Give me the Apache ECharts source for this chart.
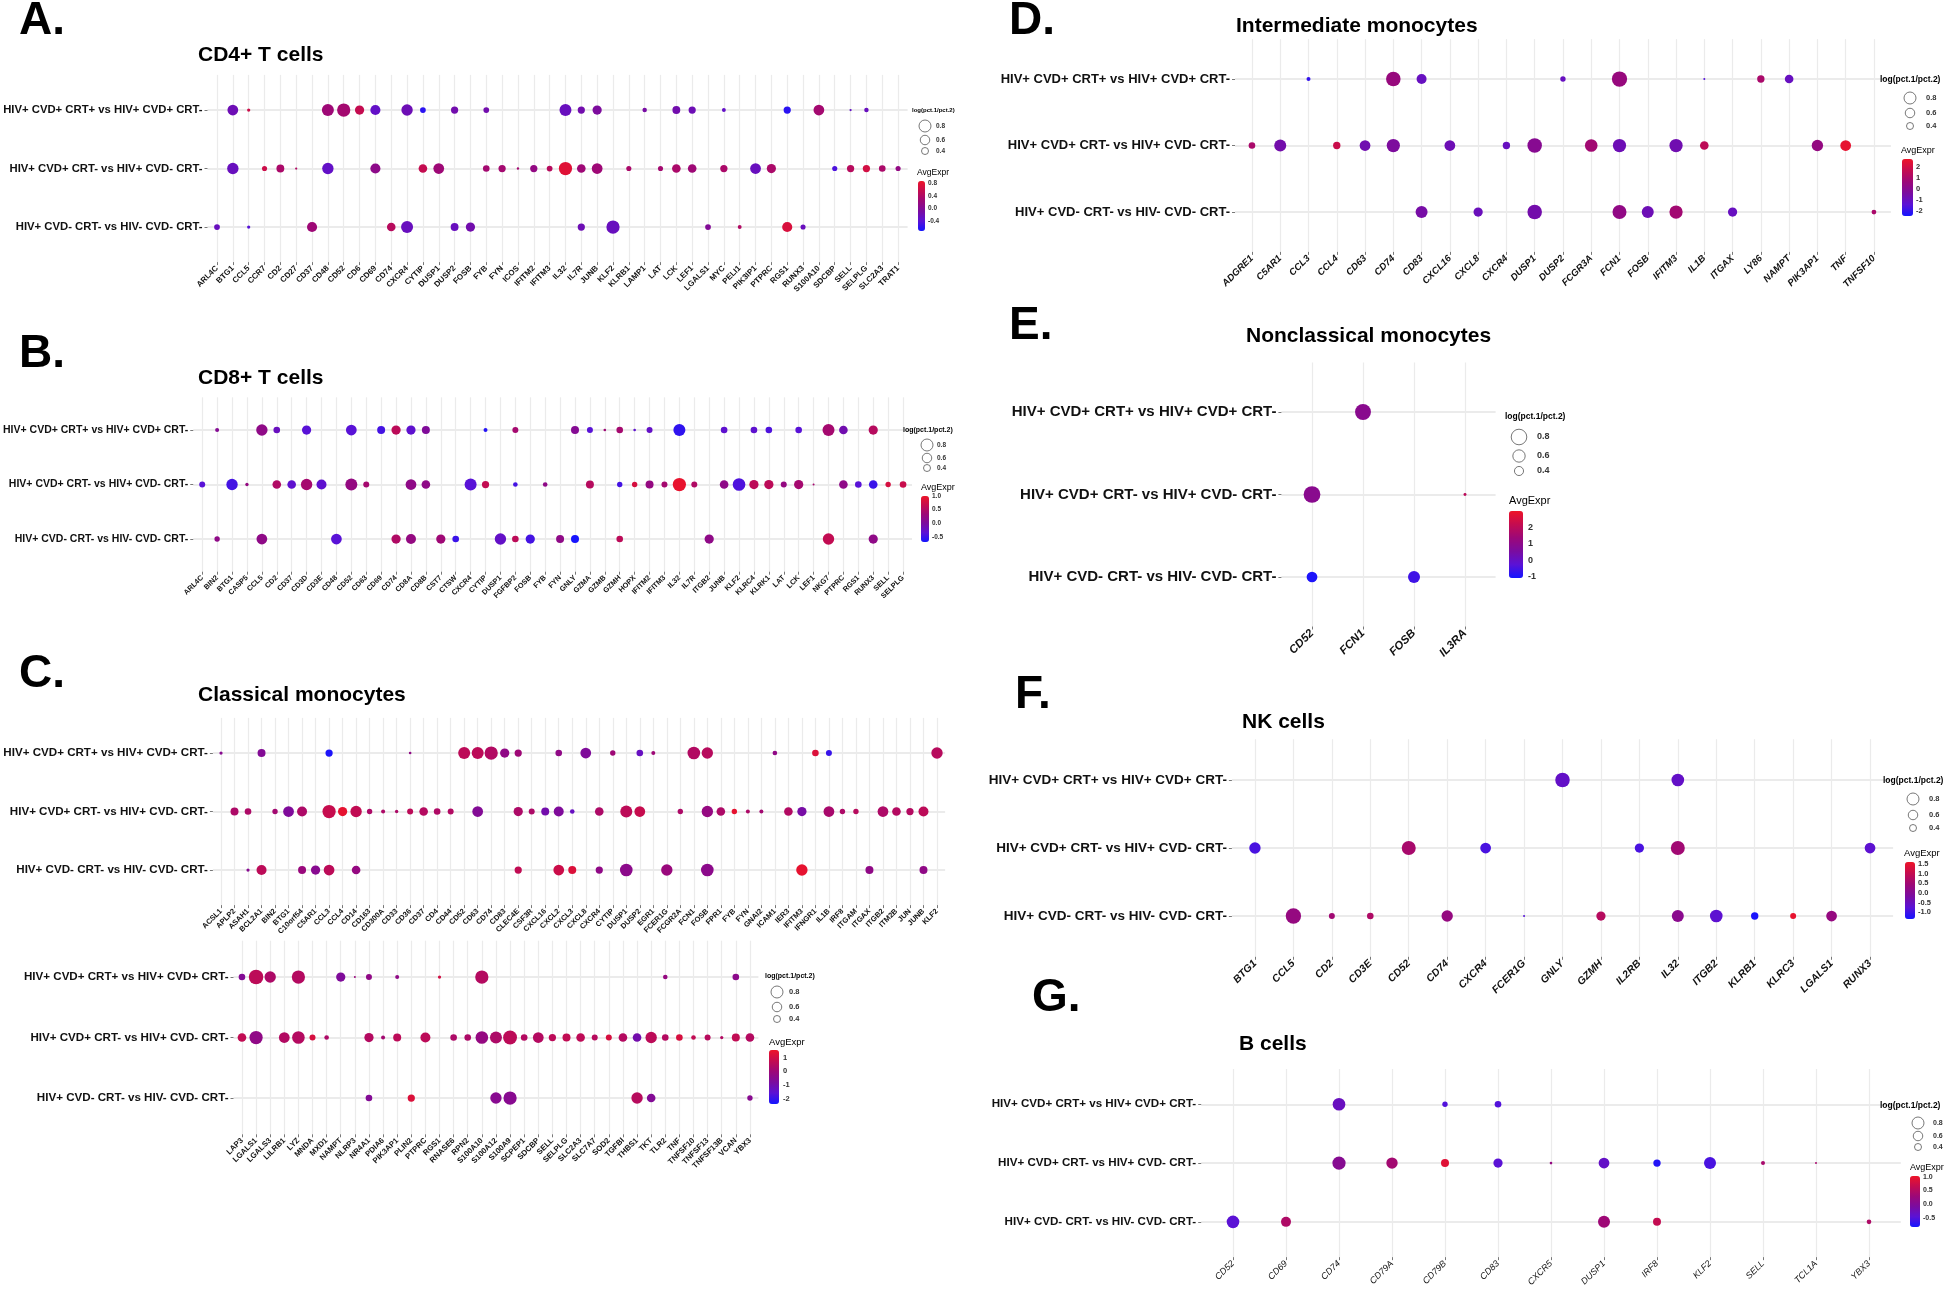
<!DOCTYPE html>
<html><head><meta charset="utf-8">
<script src="https://cdn.jsdelivr.net/npm/echarts@6/dist/echarts.min.js"></script>
<style>html,body{margin:0;padding:0;background:#fff}#c{width:1946px;height:1289px}</style>
</head><body><div id="c"></div>
<script>
// ---------------- DATA ----------------
const rows = ['HIV+ CVD+ CRT+ vs HIV+ CVD+ CRT-', 'HIV+ CVD+ CRT- vs HIV+ CVD- CRT-', 'HIV+ CVD- CRT- vs HIV- CVD- CRT-'];
const sizeTicks = ['0.8', '0.6', '0.4'];

const genesA = ['ARL4C','BTG1','CCL5','CCR7','CD2','CD27','CD37','CD48','CD52','CD6','CD69','CD74','CXCR4','CYTIP','DUSP1','DUSP2','FOSB','FYB','FYN','ICOS','IFITM2','IFITM3','IL32','IL7R','JUNB','KLF2','KLRB1','LAMP1','LAT','LCK','LEF1','LGALS1','MYC','PELI1','PIK3IP1','PTPRC','RGS1','RUNX3','S100A10','SDCBP','SELL','SELPLG','SLC2A3','TRAT1'];
// [gene, row, AvgExpr, log(pct.1/pct.2)]
const dotsA = [
 ['BTG1',0,-0.2,0.7],['CCL5',0,0.6,0.1],['CD48',0,0.25,0.8],['CD52',0,0.3,0.9],['CD6',0,0.55,0.58],['CD69',0,-0.3,0.65],['CXCR4',0,-0.2,0.75],['CYTIP',0,-0.6,0.3],['DUSP2',0,-0.15,0.42],['FYB',0,-0.15,0.3],['IL32',0,-0.25,0.8],['IL7R',0,-0.15,0.42],['JUNB',0,-0.05,0.58],['LAMP1',0,-0.1,0.2],['LCK',0,-0.15,0.47],['LEF1',0,-0.2,0.42],['MYC',0,-0.3,0.15],['RGS1',0,-0.6,0.42],['S100A10',0,0.3,0.7],['SELL',0,-0.3,0.02],['SELPLG',0,-0.25,0.2],
 ['BTG1',1,-0.25,0.75],['CCR7',1,0.6,0.25],['CD2',1,0.35,0.47],['CD27',1,0.4,0.02],['CD48',1,-0.3,0.75],['CD69',1,0.1,0.65],['CYTIP',1,0.55,0.53],['DUSP1',1,0.25,0.7],['FYB',1,0.3,0.37],['FYN',1,0.3,0.42],['ICOS',1,0.3,0.03],['IFITM2',1,0.15,0.42],['IFITM3',1,0.45,0.3],['IL32',1,0.75,0.9],['IL7R',1,0.25,0.53],['JUNB',1,0.25,0.7],['KLRB1',1,0.35,0.25],['LAT',1,0.3,0.25],['LCK',1,0.35,0.53],['LEF1',1,0.25,0.53],['MYC',1,0.35,0.42],['PIK3IP1',1,-0.25,0.7],['PTPRC',1,0.35,0.58],['SDCBP',1,-0.45,0.25],['SELL',1,0.45,0.42],['SELPLG',1,0.65,0.42],['SLC2A3',1,0.35,0.37],['TRAT1',1,0.15,0.25],
 ['ARL4C',2,-0.25,0.3],['CCL5',2,-0.4,0.1],['CD37',2,0.25,0.65],['CD74',2,0.45,0.53],['CXCR4',2,-0.25,0.8],['DUSP2',2,-0.25,0.47],['FOSB',2,-0.15,0.58],['IL7R',2,-0.2,0.42],['KLF2',2,-0.25,0.9],['LGALS1',2,0.0,0.3],['PELI1',2,0.4,0.15],['RGS1',2,0.7,0.65],['RUNX3',2,-0.25,0.25]
];
const cticksA = ['0.8','0.4','0.0','-0.4'];

const genesB = ['ARL4C','BIN2','BTG1','CASP5','CCL5','CD2','CD37','CD3D','CD3E','CD48','CD52','CD63','CD69','CD74','CD8A','CD8B','CST7','CTSW','CXCR4','CYTIP','DUSP1','FGFBP2','FOSB','FYB','FYN','GNLY','GZMA','GZMB','GZMH','HOPX','IFITM2','IFITM3','IL32','IL7R','ITGB2','JUNB','KLF2','KLRC4','KLRK1','LAT','LCK','LEF1','NKG7','PTPRC','RGS1','RUNX3','SELL','SELPLG'];
const dotsB = [
 ['BIN2',0,0.1,0.16],['CCL5',0,0.2,0.75],['CD2',0,-0.2,0.37],['CD3D',0,-0.35,0.58],['CD52',0,-0.35,0.7],['CD69',0,-0.45,0.48],['CD74',0,0.6,0.58],['CD8A',0,-0.3,0.58],['CD8B',0,0.05,0.48],['CYTIP',0,-0.6,0.16],['FGFBP2',0,0.4,0.32],['GNLY',0,0.1,0.48],['GZMA',0,-0.35,0.32],['GZMB',0,0.35,0.05],['GZMH',0,0.4,0.37],['HOPX',0,-0.3,0.05],['IFITM2',0,-0.25,0.32],['IL32',0,-0.55,0.8],['JUNB',0,-0.3,0.37],['KLRC4',0,-0.3,0.37],['KLRK1',0,-0.4,0.37],['LCK',0,-0.35,0.37],['NKG7',0,0.4,0.8],['PTPRC',0,-0.1,0.53],['RUNX3',0,0.55,0.58],
 ['ARL4C',1,-0.35,0.32],['BTG1',1,-0.45,0.75],['CASP5',1,0.25,0.11],['CD2',1,0.5,0.53],['CD37',1,-0.3,0.53],['CD3D',1,0.4,0.75],['CD3E',1,-0.3,0.64],['CD52',1,0.25,0.8],['CD63',1,0.4,0.32],['CD8A',1,0.2,0.7],['CD8B',1,0.2,0.53],['CXCR4',1,-0.35,0.8],['CYTIP',1,0.65,0.42],['FGFBP2',1,-0.45,0.21],['FYB',1,0.2,0.21],['GZMA',1,0.55,0.48],['GZMH',1,-0.45,0.27],['HOPX',1,0.8,0.27],['IFITM2',1,0.25,0.48],['IFITM3',1,0.4,0.32],['IL32',1,0.95,0.9],['IL7R',1,0.5,0.32],['JUNB',1,0.2,0.53],['KLF2',1,-0.4,0.85],['KLRC4',1,0.6,0.58],['KLRK1',1,0.6,0.58],['LAT',1,0.25,0.32],['LCK',1,0.4,0.58],['LEF1',1,0.4,0.0],['PTPRC',1,0.2,0.53],['RGS1',1,-0.35,0.37],['RUNX3',1,-0.5,0.53],['SELL',1,0.8,0.27],['SELPLG',1,0.7,0.37],
 ['BIN2',2,0.2,0.27],['CCL5',2,0.2,0.7],['CD48',2,-0.35,0.7],['CD74',2,0.5,0.58],['CD8A',2,0.25,0.64],['CST7',2,0.35,0.58],['CTSW',2,-0.5,0.37],['DUSP1',2,-0.25,0.75],['FGFBP2',2,0.6,0.37],['FOSB',2,-0.45,0.58],['FYN',2,0.2,0.48],['GNLY',2,-0.66,0.48],['GZMH',2,0.6,0.37],['ITGB2',2,0.2,0.58],['NKG7',2,0.65,0.75],['RUNX3',2,0.2,0.58]
];
const cticksB = ['1.0','0.5','0.0','-0.5'];

const genesC1 = ['ACSL1','APLP2','ASAH1','BCL2A1','BIN2','BTG1','C10orf54','C5AR1','CCL3','CCL4','CD14','CD163','CD300A','CD33','CD36','CD37','CD4','CD44','CD52','CD63','CD74','CD83','CLEC4E','CSF3R','CXCL16','CXCL2','CXCL3','CXCL8','CXCR4','CYTIP','DUSP1','DUSP2','EGR1','FCER1G','FCGR2A','FCN1','FOSB','FPR1','FYB','FYN','GNAI2','ICAM1','IER3','IFITM3','IFNGR1','IL1B','IRF8','ITGAM','ITGAX','ITGB2','ITM2B','JUN','JUNB','KLF2'];
const dotsC1 = [
 ['ACSL1',0,-0.5,0.1],['BCL2A1',0,-0.6,0.48],['CCL3',0,-2.3,0.42],['CD36',0,-0.3,0.05],['CD52',0,0.6,0.8],['CD63',0,0.6,0.8],['CD74',0,0.4,0.9],['CD83',0,-0.3,0.58],['CLEC4E',0,0.0,0.42],['CXCL2',0,-0.3,0.37],['CXCL8',0,-0.7,0.7],['CYTIP',0,0.0,0.27],['DUSP2',0,-1.3,0.37],['EGR1',0,0.0,0.16],['FCN1',0,0.4,0.85],['FOSB',0,0.5,0.75],['ICAM1',0,-0.3,0.21],['IFNGR1',0,1.2,0.37],['IL1B',0,-2.0,0.32],['KLF2',0,0.5,0.75],
 ['APLP2',1,0.3,0.48],['ASAH1',1,0.3,0.37],['BIN2',1,0.1,0.27],['BTG1',1,-0.7,0.7],['C10orf54',1,0.3,0.64],['CCL3',1,0.8,0.9],['CCL4',1,1.4,0.58],['CD14',1,0.7,0.75],['CD163',1,0.3,0.27],['CD300A',1,0.3,0.16],['CD33',1,0.3,0.11],['CD36',1,0.6,0.32],['CD37',1,0.45,0.53],['CD4',1,0.35,0.37],['CD44',1,0.4,0.32],['CD63',1,-0.6,0.7],['CLEC4E',1,0.3,0.58],['CSF3R',1,0.3,0.32],['CXCL16',1,-1.0,0.48],['CXCL2',1,-0.7,0.64],['CXCL3',1,-1.3,0.21],['CXCR4',1,0.3,0.53],['DUSP1',1,0.6,0.8],['DUSP2',1,0.8,0.7],['FCGR2A',1,0.3,0.27],['FOSB',1,-0.2,0.75],['FPR1',1,0.3,0.53],['FYB',1,1.4,0.27],['FYN',1,0.3,0.16],['GNAI2',1,0.1,0.16],['IER3',1,0.4,0.53],['IFITM3',1,-0.9,0.58],['IL1B',1,0.2,0.7],['IRF8',1,0.3,0.27],['ITGAM',1,0.5,0.27],['ITGB2',1,0.3,0.7],['ITM2B',1,0.45,0.53],['JUN',1,0.45,0.42],['JUNB',1,0.6,0.64],
 ['ASAH1',2,-0.5,0.1],['BCL2A1',2,0.6,0.64],['C10orf54',2,-0.1,0.48],['C5AR1',2,-0.5,0.58],['CCL3',2,0.6,0.7],['CD14',2,-0.2,0.53],['CLEC4E',2,0.7,0.42],['CXCL2',2,0.9,0.7],['CXCL3',2,1.2,0.48],['CXCR4',2,-0.3,0.42],['DUSP1',2,-0.4,0.85],['FCER1G',2,-0.1,0.75],['FOSB',2,-0.4,0.85],['IFITM3',2,1.4,0.75],['ITGAX',2,-0.3,0.48],['JUNB',2,-0.3,0.48]
];
const genesC2 = ['LAP3','LGALS1','LGALS3','LILRB1','LYZ','MNDA','MXD1','NAMPT','NLRP3','NR4A1','PDIA6','PIK3AP1','PLIN2','PTPRC','RGS1','RNASE6','RPN2','S100A10','S100A12','S100A9','SCPEP1','SDCBP','SELL','SELPLG','SLC2A3','SLC7A7','SOD2','TGFBI','THBS1','TKT','TLR2','TNF','TNFSF10','TNFSF13','TNFSF13B','VCAN','YBX3'];
const dotsC2 = [
 ['LAP3',0,-0.6,0.37],['LGALS1',0,0.6,1.0],['LGALS3',0,0.3,0.75],['LYZ',0,0.45,0.9],['NAMPT',0,-0.7,0.58],['NLRP3',0,-0.1,0.0],['NR4A1',0,-0.3,0.32],['PIK3AP1',0,-0.3,0.16],['RGS1',0,1.0,0.1],['S100A10',0,0.45,0.9],['TLR2',0,-0.2,0.21],['VCAN',0,-0.4,0.37],
 ['LAP3',1,0.7,0.53],['LGALS1',1,-0.3,0.9],['LILRB1',1,0.4,0.7],['LYZ',1,0.45,0.85],['MNDA',1,1.1,0.32],['MXD1',1,0.3,0.21],['NR4A1',1,0.45,0.58],['PDIA6',1,0.1,0.16],['PIK3AP1',1,0.6,0.48],['PTPRC',1,0.6,0.64],['RNASE6',1,0.3,0.37],['RPN2',1,0.3,0.37],['S100A10',1,-0.2,0.85],['S100A12',1,0.3,0.8],['S100A9',1,0.6,0.95],['SCPEP1',1,0.45,0.37],['SDCBP',1,0.45,0.7],['SELL',1,0.6,0.42],['SELPLG',1,0.7,0.48],['SLC2A3',1,0.65,0.53],['SLC7A7',1,0.5,0.32],['SOD2',1,1.1,0.32],['TGFBI',1,0.45,0.53],['THBS1',1,-1.0,0.53],['TKT',1,0.6,0.75],['TLR2',1,0.45,0.37],['TNF',1,1.1,0.37],['TNFSF10',1,0.7,0.21],['TNFSF13',1,0.5,0.32],['TNFSF13B',1,0.4,0.1],['VCAN',1,0.7,0.48],['YBX3',1,0.45,0.53],
 ['NR4A1',2,-0.6,0.37],['PLIN2',2,1.2,0.42],['S100A12',2,-0.5,0.75],['S100A9',2,-0.5,0.9],['THBS1',2,0.5,0.75],['TKT',2,-0.6,0.53],['YBX3',2,-0.5,0.27]
];
const cticksC = ['1','0','-1','-2'];

const genesD = ['ADGRE1','C5AR1','CCL3','CCL4','CD63','CD74','CD83','CXCL16','CXCL8','CXCR4','DUSP1','DUSP2','FCGR3A','FCN1','FOSB','IFITM3','IL1B','ITGAX','LY86','NAMPT','PIK3AP1','TNF','TNFSF10'];
const dotsD = [
 ['CCL3',0,-2.0,0.16],['CD74',0,0.5,1.0],['CD83',0,-1.0,0.64],['DUSP2',0,-1.0,0.27],['FCN1',0,0.5,1.06],['IL1B',0,-1.5,0.0],['LY86',0,1.0,0.43],['NAMPT',0,-1.0,0.53],
 ['ADGRE1',1,1.0,0.37],['C5AR1',1,-0.6,0.8],['CCL4',1,1.8,0.43],['CD63',1,-0.7,0.7],['CD74',1,-0.3,0.9],['CXCL16',1,-0.8,0.7],['CXCR4',1,-1.0,0.43],['DUSP1',1,0.0,1.0],['FCGR3A',1,0.8,0.85],['FCN1',1,-0.8,0.9],['IFITM3',1,-0.7,0.9],['IL1B',1,1.5,0.53],['PIK3AP1',1,0.4,0.75],['TNF',1,2.5,0.7],
 ['CD83',2,-0.5,0.8],['CXCL8',2,-0.9,0.58],['DUSP1',2,-0.6,1.0],['FCN1',2,0.3,0.96],['FOSB',2,-0.8,0.8],['IFITM3',2,0.8,0.9],['ITGAX',2,-1.0,0.58],['TNFSF10',2,1.0,0.22]
];
const cticksD = ['2','1','0','-1','-2'];

const genesE = ['CD52','FCN1','FOSB','IL3RA'];
const dotsE = [['FCN1',0,0.9,0.82],['CD52',1,0.9,0.87],['IL3RA',1,2.0,0.02],['CD52',2,-1.0,0.5],['FOSB',2,-0.6,0.58]];
const cticksE = ['2','1','0','-1'];

const genesF = ['BTG1','CCL5','CD2','CD3E','CD52','CD74','CXCR4','FCER1G','GNLY','GZMH','IL2RB','IL32','ITGB2','KLRB1','KLRC3','LGALS1','RUNX3'];
const dotsF = [
 ['GNLY',0,-0.6,1.0],['IL32',0,-0.6,0.85],
 ['BTG1',1,-0.9,0.75],['CD52',1,0.6,0.96],['CXCR4',1,-0.9,0.7],['IL2RB',1,-0.9,0.58],['IL32',1,0.5,0.96],['RUNX3',1,-0.7,0.7],
 ['CCL5',2,0.3,1.07],['CD2',2,0.5,0.32],['CD3E',2,0.7,0.37],['CD74',2,0.3,0.75],['FCER1G',2,-0.8,0.0],['GZMH',2,0.8,0.58],['IL32',2,0.1,0.8],['ITGB2',2,-0.7,0.85],['KLRB1',2,-1.3,0.43],['KLRC3',2,1.5,0.32],['LGALS1',2,0.3,0.7]
];
const cticksF = ['1.5','1.0','0.5','0.0','-0.5','-1.0'];

const genesG = ['CD52','CD69','CD74','CD79A','CD79B','CD83','CXCR5','DUSP1','IRF8','KLF2','SELL','TCL1A','YBX3'];
const dotsG = [
 ['CD74',0,-0.3,0.85],['CD79B',0,-0.5,0.27],['CD83',0,-0.5,0.37],
 ['CD74',1,0.05,0.9],['CD79A',1,0.35,0.75],['CD79B',1,0.9,0.48],['CD83',1,-0.45,0.58],['CXCR5',1,0.2,0.05],['DUSP1',1,-0.35,0.7],['IRF8',1,-0.75,0.43],['KLF2',1,-0.55,0.8],['SELL',1,0.4,0.16],['TCL1A',1,0.4,0.0],
 ['CD52',2,-0.45,0.85],['CD69',2,0.45,0.64],['DUSP1',2,0.3,0.8],['IRF8',2,0.65,0.48],['YBX3',2,0.45,0.21]
];
const cticksG = ['1.0','0.5','0.0','-0.5'];

// ---------------- LAYOUT / STYLE ----------------
const FONT = '"Liberation Sans", Arial, Helvetica, sans-serif';
const pal = ['#1414ff','#5a12d6','#7a0ca0','#9c0878','#c40c50','#ee1428'];
function sz(v, k) { return Math.max(1.6, k * (2 + 12.5 * v)); }
const EXP = 0.6; // ggplot discrete-axis expansion

const panels = [
 {genes: genesA, dots: dotsA, range: [-0.7, 0.86], cticks: cticksA, k: 1,
  grid: {left: 207.5, top: 74.9, width: 700.1, height: 187.2}, yFont: 11.3, xFont: 8, xStyle: 'normal', xWeight: 'bold',
  title: {text: 'CD4+ T cells', x: 198, y: 55}, letter: {text: 'A.', x: 19, y: 21},
  leg: {tx: 912, ty: 110, ts: 6, cx: 925, cy: [126, 140, 151], lx: 936, ls: 6.5, ax: 917, ay: 173, as: 8.5, bx: 918, by: 181, bw: 7, bh: 50, blx: 928, bs: 6.5}},
 {genes: genesB, dots: dotsB, range: [-0.68, 1.0], cticks: cticksB, k: 1,
  grid: {left: 190.0, top: 397.3, width: 722.0, height: 174.4}, yFont: 10.5, xFont: 7.3, xStyle: 'normal', xWeight: 'bold',
  title: {text: 'CD8+ T cells', x: 198, y: 378}, letter: {text: 'B.', x: 19, y: 354},
  leg: {tx: 903, ty: 430, ts: 7, cx: 927, cy: [445, 458, 468], lx: 937, ls: 6.5, ax: 921, ay: 488, as: 9, bx: 921, by: 496, bw: 8, bh: 46, blx: 932, bs: 6.5}},
 {genes: genesC1, dots: dotsC1, range: [-2.4, 1.55], cticks: null, k: 1,
  grid: {left: 212.9, top: 717.9, width: 732.2, height: 187.2}, yFont: 11.6, xFont: 7.5, xStyle: 'normal', xWeight: 'bold',
  title: {text: 'Classical monocytes', x: 198, y: 695}, letter: {text: 'C.', x: 19, y: 674}, leg: null},
 {genes: genesC2, dots: dotsC2, range: [-2.4, 1.55], cticks: cticksC, k: 1,
  grid: {left: 233.5, top: 940.7, width: 524.9, height: 193.6}, yFont: 11.6, xFont: 7.8, xStyle: 'normal', xWeight: 'bold',
  title: null, letter: null,
  leg: {tx: 765, ty: 976, ts: 7, cx: 777, cy: [992, 1007, 1019], lx: 789, ls: 7.5, ax: 769, ay: 1042, as: 9.5, bx: 769, by: 1050, bw: 10, bh: 54, blx: 783, bs: 7.5}},
 {genes: genesD, dots: dotsD, range: [-2.45, 2.7], cticks: cticksD, k: 1,
  grid: {left: 1235.0, top: 39.1, width: 655.9, height: 212.8}, yFont: 13, xFont: 9.5, xStyle: 'italic', xWeight: 'bold',
  title: {text: 'Intermediate monocytes', x: 1236, y: 26}, letter: {text: 'D.', x: 1009, y: 21},
  leg: {tx: 1880, ty: 80, ts: 8.5, cx: 1910, cy: [98, 113, 126], lx: 1926, ls: 7.5, ax: 1901, ay: 151, as: 9, bx: 1902, by: 159, bw: 11, bh: 57, blx: 1916, bs: 7.5}},
 {genes: genesE, dots: dotsE, range: [-1.1, 3.0], cticks: cticksE, k: 1.3,
  grid: {left: 1281.4, top: 362.5, width: 214.2, height: 264}, yFont: 15, xFont: 11.5, xStyle: 'italic', xWeight: 'bold',
  title: {text: 'Nonclassical monocytes', x: 1246, y: 336}, letter: {text: 'E.', x: 1009, y: 326},
  leg: {tx: 1505, ty: 417, ts: 8.5, cx: 1519, cy: [437, 456, 471], lx: 1537, ls: 9, ax: 1509, ay: 501, as: 11, bx: 1509, by: 511, bw: 14, bh: 67, blx: 1528, bs: 9}},
 {genes: genesF, dots: dotsF, range: [-1.35, 1.6], cticks: cticksF, k: 1,
  grid: {left: 1231.9, top: 739.2, width: 661.2, height: 217.6}, yFont: 13.5, xFont: 10.5, xStyle: 'italic', xWeight: 'bold',
  title: {text: 'NK cells', x: 1242, y: 722}, letter: {text: 'F.', x: 1015, y: 695},
  leg: {tx: 1883, ty: 781, ts: 8.5, cx: 1913, cy: [799, 815, 828], lx: 1929, ls: 7.5, ax: 1904, ay: 853, as: 9.5, bx: 1905, by: 862, bw: 10, bh: 57, blx: 1918, bs: 7.5}},
 {genes: genesG, dots: dotsG, range: [-0.83, 1.03], cticks: cticksG, k: 1,
  grid: {left: 1201.2, top: 1069, width: 699.6, height: 192}, yFont: 11.6, xFont: 9, xStyle: 'italic', xWeight: 'normal',
  title: {text: 'B cells', x: 1239, y: 1044}, letter: {text: 'G.', x: 1032, y: 998},
  leg: {tx: 1880, ty: 1106, ts: 8.5, cx: 1918, cy: [1123, 1136, 1147], lx: 1933, ls: 7, ax: 1910, ay: 1168, as: 9, bx: 1910, by: 1176, bw: 10, bh: 51, blx: 1923, bs: 7}}
];

// ---------------- BUILD ----------------
const option = {
  animation: false, backgroundColor: '#ffffff',
  textStyle: {fontFamily: FONT},
  grid: [], xAxis: [], yAxis: [], series: [], visualMap: [], graphic: {elements: []}
};
const G = option.graphic.elements;
function txt(text, x, y, size, weight, extra) {
  G.push({type: 'text', silent: true, z: 10,
    style: Object.assign({text: text, x: x, y: y, fill: '#000', fontSize: size, fontWeight: weight, fontFamily: FONT, align: 'left', verticalAlign: 'middle'}, extra || {})});
}
function idx(n) { const a = []; for (let j = 0; j < n; j++) a.push(j); return a; }

panels.forEach(function (p, i) {
  const nx = p.genes.length, xs = idx(nx), ys = idx(rows.length);
  option.grid.push({left: p.grid.left, top: p.grid.top, width: p.grid.width, height: p.grid.height, containLabel: false});
  option.xAxis.push({type: 'value', gridIndex: i, position: 'bottom', min: -EXP, max: nx - 1 + EXP, scale: false,
    axisLine: {show: false, onZero: false},
    axisTick: {show: true, customValues: xs, length: 3, lineStyle: {color: '#555', width: 0.8}},
    axisLabel: {customValues: xs, formatter: function (v) { return p.genes[Math.round(v)] || ''; },
      rotate: 45, fontSize: p.xFont, fontWeight: p.xWeight, fontStyle: p.xStyle, color: '#111', margin: 5, fontFamily: FONT,
      showMinLabel: true, showMaxLabel: true, hideOverlap: false},
    splitLine: {show: true, lineStyle: {color: '#EBEBEB', width: 1.2}}});
  option.yAxis.push({type: 'value', gridIndex: i, position: 'left', min: -EXP, max: rows.length - 1 + EXP, inverse: true, scale: false,
    axisLine: {show: false, onZero: false},
    axisTick: {show: true, customValues: ys, length: 3, lineStyle: {color: '#555', width: 0.8}},
    axisLabel: {customValues: ys, formatter: function (v) { return rows[Math.round(v)] || ''; },
      fontSize: p.yFont, fontWeight: 'bold', color: '#111', margin: 5, fontFamily: FONT, hideOverlap: false},
    splitLine: {show: true, lineStyle: {color: '#EBEBEB', width: 1.8}}});
  const k = p.k;
  option.series.push({type: 'scatter', xAxisIndex: i, yAxisIndex: i, silent: true, z: 3,
    data: p.dots.map(function (d) { return [p.genes.indexOf(d[0]), d[1], d[2], d[3]]; }),
    symbol: 'circle',
    symbolSize: function (v) { return sz(v[3], k); },
    itemStyle: {opacity: 1}});
  const L = p.leg;
  option.visualMap.push({type: 'continuous', seriesIndex: i, dimension: 2, min: p.range[0], max: p.range[1],
    inRange: {color: pal}, calculable: false, hoverLink: false, realtime: false,
    show: !!L, left: L ? L.bx : 0, top: L ? L.by : 0, itemWidth: L ? L.bw : 10, itemHeight: L ? L.bh : 50,
    padding: 0, text: null, borderWidth: 0});
  if (p.title) txt(p.title.text, p.title.x, p.title.y, 21, 'bold');
  if (p.letter) txt(p.letter.text, p.letter.x, p.letter.y, 46, 'bold');
  if (L) {
    txt('log(pct.1/pct.2)', L.tx, L.ty, L.ts, 'bold');
    sizeTicks.forEach(function (t, j) {
      G.push({type: 'circle', silent: true, z: 10, shape: {cx: L.cx, cy: L.cy[j], r: sz(parseFloat(t), k) / 2},
        style: {fill: 'none', stroke: '#555', lineWidth: 0.8}});
      txt(t, L.lx, L.cy[j], L.ls, 'bold', {fill: '#333'});
    });
    txt('AvgExpr', L.ax, L.ay, L.as, 'normal');
    p.cticks.forEach(function (t) {
      const v = parseFloat(t);
      const y = L.by + (p.range[1] - v) / (p.range[1] - p.range[0]) * L.bh;
      txt(t, L.blx, y, L.bs, 'bold', {fill: '#333'});
    });
  }
});

const chart = echarts.init(document.getElementById('c'), null, {renderer: 'canvas'});
chart.setOption(option);
</script>
</body></html>
